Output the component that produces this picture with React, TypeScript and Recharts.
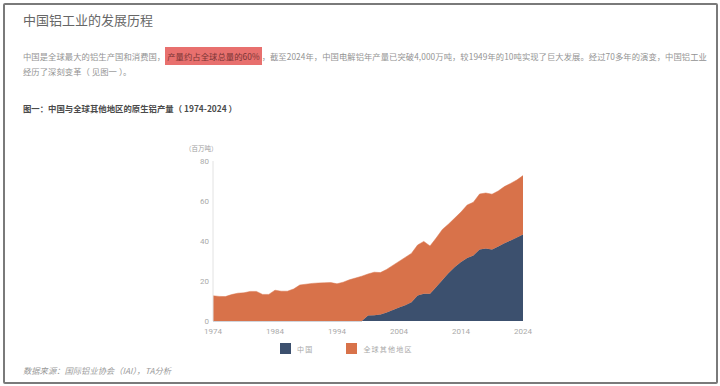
import { AreaChart, Area, XAxis, YAxis } from "recharts";

const years = [
  1974, 1975, 1976, 1977, 1978, 1979, 1980, 1981, 1982, 1983, 1984, 1985, 1986,
  1987, 1988, 1989, 1990, 1991, 1992, 1993, 1994, 1995, 1996, 1997, 1998, 1999,
  2000, 2001, 2002, 2003, 2004, 2005, 2006, 2007, 2008, 2009, 2010, 2011, 2012,
  2013, 2014, 2015, 2016, 2017, 2018, 2019, 2020, 2021, 2022, 2023, 2024,
];

// 百万吨
const china = [
  0, 0, 0, 0, 0, 0, 0, 0, 0, 0, 0, 0, 0, 0, 0, 0, 0, 0, 0, 0, 0, 0, 0, 0, 0,
  2.7, 2.9, 3.3, 4.3, 5.5, 6.7, 7.9, 9.4, 12.8, 13.6, 13.6, 17.0, 20.5, 24.0,
  27.0, 29.5, 31.5, 32.7, 35.8, 36.2, 35.8, 37.3, 38.9, 40.3, 41.8, 43.2,
];

const restOfWorld = [
  12.6, 12.3, 12.2, 13.2, 13.9, 14.1, 14.8, 14.8, 13.3, 13.3, 15.4, 14.9, 14.9,
  16.0, 18.0, 18.4, 18.8, 19.0, 19.1, 19.2, 18.6, 19.4, 20.6, 21.5, 22.4, 20.8,
  21.5, 20.9, 21.5, 22.3, 23.1, 23.9, 24.4, 25.2, 26.2, 23.9, 24.5, 25.3, 24.5,
  24.5, 25.0, 26.5, 26.7, 27.7, 27.8, 27.6, 27.7, 28.3, 28.5, 28.7, 29.5,
];

const xTicks = [1974, 1984, 1994, 2004, 2014, 2024];
const yTicks = [0, 20, 40, 60, 80];

const series = [
  { key: "china", name: "中国", color: "#3c506e" },
  { key: "rest", name: "全球其他地区", color: "#d8724a" },
];

const data = years.map((year, i) => ({
  year,
  china: china[i],
  rest: restOfWorld[i],
}));

const cjk = '"Noto Sans CJK SC", "Noto Sans", sans-serif';
const tickStyle = { fontSize: 8, fill: "#aaa", fontFamily: "Roboto, sans-serif" };

export default function App() {
  return (
    <div
      style={{
        position: "absolute",
        left: 0,
        top: 0,
        width: 720,
        height: 386,
        background: "#fff",
        fontFamily: cjk,
      }}
    >
      {/* frame */}
      <div
        style={{
          position: "absolute",
          left: 3,
          top: 3,
          width: 711,
          height: 377,
          border: "2px solid #7a7a7a",
          borderRadius: 2,
        }}
      />

      <div style={{ position: "absolute", left: 23, top: 10, fontSize: 13, color: "#666" }}>
        中国铝工业的发展历程
      </div>

      <div
        style={{
          position: "absolute",
          left: 23,
          top: 49,
          width: 690,
          fontSize: 8.3,
          lineHeight: "15px",
          letterSpacing: 0.07,
          color: "#939393",
          whiteSpace: "nowrap",
        }}
      >
        中国是全球最大的铝生产国和消费国，
        <span style={{ background: "#e8706e", color: "#7a3434", padding: "3px 2px" }}>
          产量约占全球总量的60%
        </span>
        ，截至2024年，中国电解铝年产量已突破4,000万吨，较1949年的10吨实现了巨大发展。经过70多年的演变，中国铝工业
        <br />
        经历了深刻变革（ 见图一 ）。
      </div>

      <div
        style={{
          position: "absolute",
          left: 23,
          top: 102,
          fontSize: 8.4,
          fontWeight: 700,
          color: "#4a4a4a",
        }}
      >
        图一：中国与全球其他地区的原生铝产量（ 1974-2024 ）
      </div>

      <div style={{ position: "absolute", left: 185, top: 143, fontSize: 6.5, color: "#a0a0a0" }}>
        （百万吨）
      </div>

      <div style={{ position: "absolute", left: 160, top: 140 }}>
        <AreaChart
          width={380}
          height={201}
          data={data}
          margin={{ top: 21, right: 17, left: 0, bottom: 0 }}
        >
          <XAxis
            dataKey="year"
            type="number"
            domain={[1974, 2024]}
            ticks={xTicks}
            axisLine={false}
            tickLine={false}
            tickSize={5}
            tickMargin={2}
            height={20}
            tick={tickStyle}
          />
          <YAxis
            domain={[0, 80]}
            ticks={yTicks}
            width={53}
            axisLine={{ stroke: "#e2e2e2" }}
            tickLine={false}
            tickSize={2}
            tickMargin={2}
            tick={tickStyle}
          />
          {series.map((s) => (
            <Area
              key={s.key}
              type="linear"
              dataKey={s.key}
              name={s.name}
              stackId="a"
              stroke={s.color}
              strokeWidth={0.5}
              fill={s.color}
              fillOpacity={1}
              isAnimationActive={false}
            />
          ))}
        </AreaChart>
      </div>

      {/* legend */}
      <div style={{ position: "absolute", left: 280, top: 343, display: "flex" }}>
        {series.map((s) => (
          <div key={s.key} style={{ display: "flex", alignItems: "center", marginRight: 33 }}>
            <div style={{ width: 11, height: 11, background: s.color }} />
            <span
              style={{
                marginLeft: 6,
                fontSize: 7,
                color: "#a8a8a8",
                letterSpacing: 1.2,
              }}
            >
              {s.name}
            </span>
          </div>
        ))}
      </div>

      <div
        style={{
          position: "absolute",
          left: 23,
          top: 364,
          fontSize: 8.3,
          fontStyle: "italic",
          color: "#9a9a9a",
        }}
      >
        数据来源：国际铝业协会（IAI），TA分析
      </div>
    </div>
  );
}
